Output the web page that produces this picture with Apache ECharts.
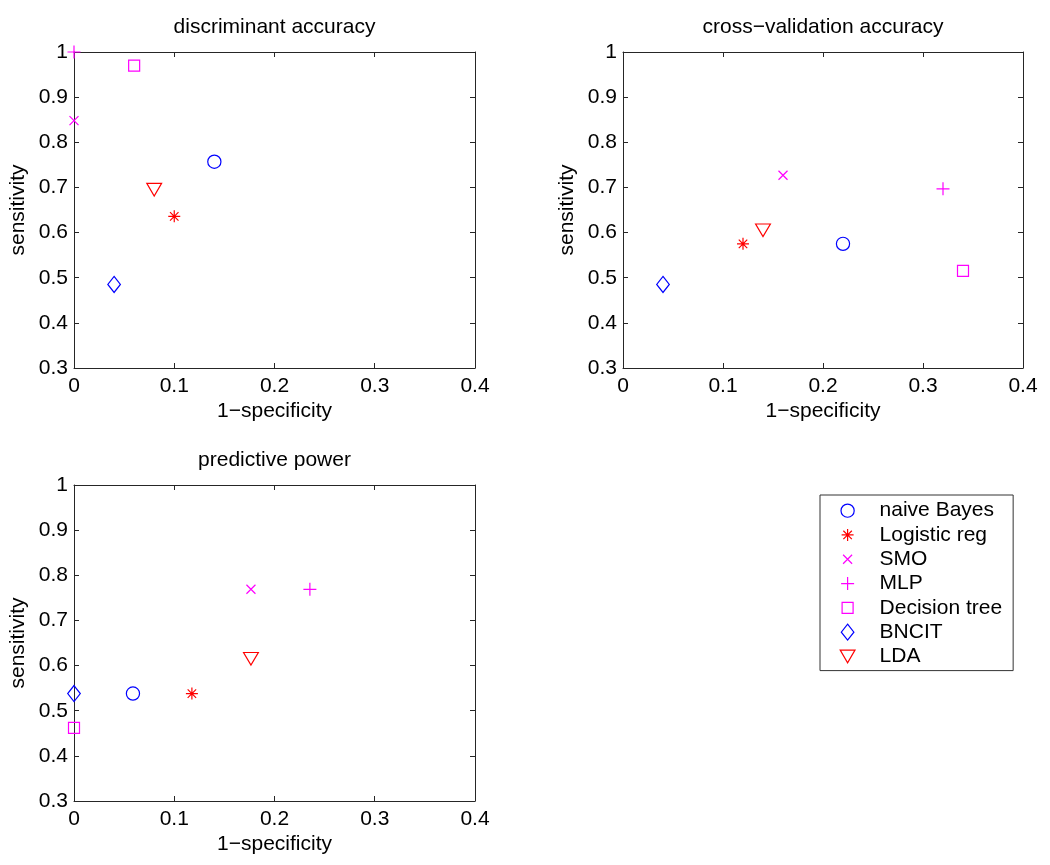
<!DOCTYPE html>
<html><head><meta charset="utf-8">
<script src="https://cdn.jsdelivr.net/npm/echarts@6/dist/echarts.min.js"></script>
<style>html,body{margin:0;padding:0;background:#fff}#c{width:1050px;height:865px}</style>
</head><body><div id="c"></div>
<script>
// ---- data ----
const methods = ['naive Bayes', 'Logistic reg', 'SMO', 'MLP', 'Decision tree', 'BNCIT', 'LDA'];
const panelTitles = ['discriminant accuracy', 'cross\u2212validation accuracy', 'predictive power'];
const xAxisName = '1\u2212specificity';
const yAxisName = 'sensitivity';
const xRange = [0, 0.4];   // ticks 0, 0.1, ... 0.4
const yRange = [0.3, 1.0]; // ticks 0.3, 0.4, ... 1
const tickStep = 0.1;

// 1-specificity / sensitivity per method (order as in methods)
const discriminantX = [0.14, 0.10, 0.00, 0.00, 0.06, 0.04, 0.08];
const discriminantY = [0.757, 0.636, 0.848, 1.00, 0.970, 0.485, 0.695];
const crossValX = [0.22, 0.12, 0.16, 0.32, 0.34, 0.04, 0.14];
const crossValY = [0.575, 0.575, 0.727, 0.697, 0.515, 0.485, 0.605];
const predictiveX = [0.0588, 0.1176, 0.1765, 0.2353, 0.00, 0.00, 0.1765];
const predictiveY = [0.538, 0.538, 0.769, 0.769, 0.462, 0.538, 0.615];

const panelX = [discriminantX, crossValX, predictiveX];
const panelY = [discriminantY, crossValY, predictiveY];

// ---- styles ----
const FONT = 'Liberation Sans, Arial, sans-serif';
const FS = 21;
const BLUE = '#0000ff', RED = '#ff0000', MAG = '#ff00ff';
const methodColors = [BLUE, RED, MAG, MAG, MAG, BLUE, RED];
const PAD = 'M0,0M20,20';
const methodSymbols = [
  'path://' + PAD + 'M16.6,10A6.6,6.6,0,1,1,3.4,10A6.6,6.6,0,1,1,16.6,10Z',
  'path://' + PAD + 'M10,4V16M4,10H16M5.76,5.76L14.24,14.24M14.24,5.76L5.76,14.24',
  'path://' + PAD + 'M5.5,5.5L14.5,14.5M14.5,5.5L5.5,14.5',
  'path://' + PAD + 'M10,3.5V16.5M3.5,10H16.5',
  'path://' + PAD + 'M4.5,4.5H15.5V15.5H4.5Z',
  'path://' + PAD + 'M10,2L16.3,10L10,18L3.7,10Z',
  'path://' + PAD + 'M2.6,3.7H17.4L10,16.3Z'
];

const grids = [
  {left: 74, top: 52, width: 401, height: 316},
  {left: 623, top: 52, width: 400, height: 316},
  {left: 74, top: 485, width: 401, height: 316}
];

const lineStyle = {color: '#262626', width: 1};
const xAxes = [], yAxes = [], series = [], titles = [];
grids.forEach((g, i) => {
  g.containLabel = false;
  g.outerBoundsMode = 'none';
  const base = {
    gridIndex: i, type: 'value', interval: tickStep,
    axisLine: {show: true, onZero: false, lineStyle},
    axisTick: {show: true, inside: true, length: 5, lineStyle},
    splitLine: {show: false},
    axisPointer: {show: false}
  };
  xAxes.push(Object.assign({}, base, {
    min: xRange[0], max: xRange[1], position: 'bottom',
    axisLabel: {show: true, margin: 8, fontSize: FS, color: '#000', fontFamily: FONT},
    name: xAxisName, nameLocation: 'middle', nameGap: 33,
    nameTextStyle: {fontSize: FS, color: '#000', fontFamily: FONT}
  }));
  xAxes.push(Object.assign({}, base, {
    min: xRange[0], max: xRange[1], position: 'top', axisLabel: {show: false}
  }));
  yAxes.push(Object.assign({}, base, {
    min: yRange[0], max: yRange[1], position: 'left',
    axisLabel: {show: true, margin: 6, fontSize: FS, color: '#000', fontFamily: FONT},
    name: yAxisName, nameLocation: 'middle', nameGap: 45,
    nameTextStyle: {fontSize: FS, color: '#000', fontFamily: FONT}
  }));
  yAxes.push(Object.assign({}, base, {
    min: yRange[0], max: yRange[1], position: 'right', axisLabel: {show: false}
  }));
  titles.push({
    text: panelTitles[i], left: g.left + g.width / 2, top: g.top - 35,
    textAlign: 'center', padding: 0,
    textStyle: {fontSize: FS, fontWeight: 'normal', color: '#000', fontFamily: FONT}
  });
  methods.forEach((m, k) => {
    series.push({
      type: 'scatter', name: m,
      xAxisIndex: i * 2, yAxisIndex: i * 2,
      data: [[panelX[i][k], panelY[i][k]]],
      symbol: methodSymbols[k], symbolSize: 20,
      itemStyle: {color: 'transparent', borderColor: methodColors[k], borderWidth: 1.2, opacity: 1},
      emphasis: {disabled: true},
      clip: false, silent: true, z: 3
    });
  });
});

const chart = echarts.init(document.getElementById('c'), null, {renderer: 'canvas'});
chart.setOption({
  animation: false,
  backgroundColor: '#fff',
  title: titles,
  grid: grids,
  xAxis: xAxes,
  yAxis: yAxes,
  legend: {
    orient: 'vertical', left: 820, top: 495,
    padding: [3.5, 11, 2, 17],
    itemWidth: 28, itemHeight: 20, itemGap: 0,
    backgroundColor: '#fff', borderColor: '#333', borderWidth: 1, borderRadius: 0,
    selectedMode: false,
    itemStyle: {borderWidth: 1.2},
    textStyle: {fontSize: FS, color: '#000', fontFamily: FONT, lineHeight: 24.3, padding: [0, 0, 0, 13]},
    data: methods
  },
  series: series
});
</script>
</body></html>
